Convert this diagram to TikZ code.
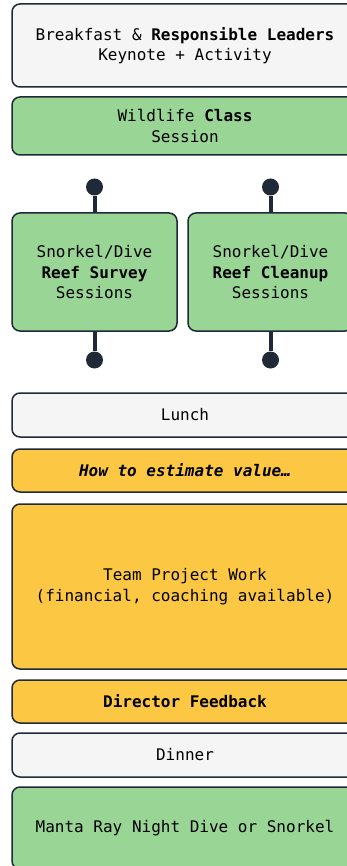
\documentclass[tikz,border=0pt]{standalone}
\usepackage{fontspec}
\setmainfont{DejaVu Sans Mono}
\definecolor{mealgray}{HTML}{F5F5F5}
\definecolor{seagreen}{HTML}{99D595}
\definecolor{sunyellow}{HTML}{FCC844}
\definecolor{edgedark}{HTML}{1F2937}

\begin{document}
\begin{tikzpicture}[x=1pt,y=1pt,
	box/.style={draw=edgedark, line width=1.5pt, rounded corners=8pt, align=center, inner sep=0pt, font=\fontsize{16}{20.5}\selectfont},
	meal/.style={box, fill=mealgray},
	sea/.style={box, fill=seagreen},
	work/.style={box, fill=sunyellow},
	pin/.style={circle, fill=edgedark, minimum size=17pt, inner sep=0pt},
	stem/.style={edgedark, line width=4pt}]
	\def\fullw{346pt}
	\def\halfw{165pt}
	\def\midx{185}

	\useasboundingbox (0,0) rectangle (346,-866);

	\node[meal, minimum width=\fullw, minimum height=83pt] (breakfast) at (\midx,-45.5) {Breakfast \& \textbf{Responsible Leaders}\\Keynote + Activity};
	\node[sea, minimum width=\fullw, minimum height=58pt] (wildlife) at (\midx,-126) {Wildlife \textbf{Class}\\Session};

	\node[sea, minimum width=\halfw, minimum height=118pt] (survey) at (94.5,-272) {Snorkel/Dive\\\textbf{Reef Survey}\\Sessions};
	\node[sea, minimum width=\halfw, minimum height=118pt] (cleanup) at (270.5,-272) {Snorkel/Dive\\\textbf{Reef Cleanup}\\Sessions};

	\node[pin] (surveytop) at (94.5,-187) {};
	\node[pin] (surveybot) at (94.5,-360) {};
	\node[pin] (cleanuptop) at (270.5,-187) {};
	\node[pin] (cleanupbot) at (270.5,-360) {};
	\draw[stem] (surveytop) -- (survey);
	\draw[stem] (survey) -- (surveybot);
	\draw[stem] (cleanuptop) -- (cleanup);
	\draw[stem] (cleanup) -- (cleanupbot);

	\node[meal, minimum width=\fullw, minimum height=44pt] (lunch) at (\midx,-415) {Lunch};
	\node[work, minimum width=\fullw, minimum height=43pt] (estimate) at (\midx,-470.5) {\textbf{\textit{How to estimate value…}}};
	\node[work, minimum width=\fullw, minimum height=165pt] (project) at (\midx,-586.5) {Team Project Work\\(financial, coaching available)};
	\node[work, minimum width=\fullw, minimum height=43pt] (feedback) at (\midx,-701.5) {\textbf{Director Feedback}};
	\node[meal, minimum width=\fullw, minimum height=44pt] (dinner) at (\midx,-755) {Dinner};
	\node[sea, minimum width=\fullw, minimum height=82pt] (manta) at (\midx,-828) {Manta Ray Night Dive or Snorkel};
\end{tikzpicture}
\end{document}
